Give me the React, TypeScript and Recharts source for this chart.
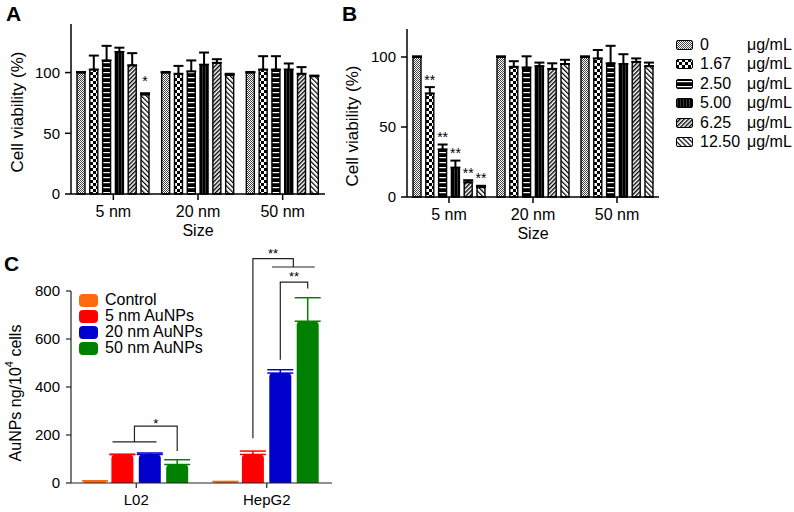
import React from 'react';
import { Bar, BarChart, ErrorBar, LabelList, Legend, XAxis, YAxis } from 'recharts';

const FONT = '"Liberation Sans", Arial, Helvetica, sans-serif';

// ---- panels A and B: cell viability ----
const sizes = ['5 nm', '20 nm', '50 nm'];
const concentrations = ['0', '1.67', '2.50', '5.00', '6.25', '12.50'];
const viabilityTicks = [0, 50, 100];

// one row per concentration, one column per particle size
const viabilityA = [
  [100, 100, 100],
  [102.5, 99, 102.5],
  [110, 101, 102.5],
  [117, 106.5, 102.5],
  [106, 108, 99],
  [82, 98, 97],
];
const errorA = [
  [0.5, 0.5, 0.5],
  [11.5, 6.5, 11],
  [12, 9, 11],
  [3.5, 10, 5],
  [10, 3, 5.5],
  [1, 1, 0.5],
];
const starsA = [
  ['', '', ''],
  ['', '', ''],
  ['', '', ''],
  ['', '', ''],
  ['', '', ''],
  ['*', '', ''],
];

const viabilityB = [
  [100, 100, 100],
  [74, 93, 99],
  [34, 92.5, 95.5],
  [21, 93.5, 95],
  [10.5, 91.5, 96.5],
  [7, 95, 93.5],
];
const errorB = [
  [0.5, 0.5, 0.5],
  [4.5, 4, 6],
  [3.5, 8, 12.5],
  [5, 2.5, 7],
  [1.5, 4, 2.5],
  [1, 3, 2.5],
];
const starsB = [
  ['', '', ''],
  ['**', '', ''],
  ['**', '', ''],
  ['**', '', ''],
  ['**', '', ''],
  ['**', '', ''],
];

// ---- panel C: gold uptake ----
const cellLines = ['L02', 'HepG2'];
const groupsC = ['Control', '5 nm AuNPs', '20 nm AuNPs', '50 nm AuNPs'];
const colorsC = ['#ff6a10', '#ff0000', '#0000cc', '#008000'];
const uptakeC = [
  [9, 6],
  [118, 119],
  [119, 458],
  [77, 674],
];
const errorC = [
  [0, 0],
  [2, 14],
  [6, 14],
  [20, 98],
];
const uptakeTicks = [0, 200, 400, 600, 800];

// significance brackets, in data units (ng/10^4 cells)
const bracketL02 = { pairLine: 171, top: 237, drop: 133 };
const bracketHepG2 = { outerTop: 935, outerDrop: 186, pairLine: 900, innerTop: 837, innerLeft: 514, innerRight: 810 };

const BAR_GAP_AB = 4.8;
const BAR_GAP_C = 5.4;

function buildViabilityRows(values: number[][], errors: number[][], stars: string[][]) {
  return sizes.map((size, i) => {
    const row: Record<string, unknown> = { size };
    concentrations.forEach((_, k) => {
      row[`v${k}`] = values[k][i];
      row[`e${k}`] = [0, errors[k][i]];
      row[`s${k}`] = stars[k][i];
    });
    return row;
  });
}

const rowsA = buildViabilityRows(viabilityA, errorA, starsA);
const rowsB = buildViabilityRows(viabilityB, errorB, starsB);

const rowsC = cellLines.map((cell, i) => {
  const row: Record<string, unknown> = { cell };
  groupsC.forEach((_, k) => {
    row[`u${k}`] = uptakeC[k][i];
    row[`ue${k}`] = [0, errorC[k][i]];
  });
  return row;
});

function starLabel(values: number[][], errors: number[][], stars: string[][], k: number, lift: number) {
  return (props: any) => {
    const box = props.viewBox ?? props;
    const i = props.index;
    const mark = stars[k][i];
    if (!mark || box == null || box.height == null) return null;
    const ppu = box.height / values[k][i];
    const errTop = box.y - errors[k][i] * ppu;
    const cy = errTop - lift;
    return (
      <text x={box.x + box.width / 2} y={cy + 8} textAnchor="middle" fontSize={14} fontFamily={FONT} fill="#000">
        {mark}
      </text>
    );
  };
}

function yTitle(offsetX: number, dy: number, text: React.ReactNode, size = 17) {
  return (props: any) => {
    const vb = props.viewBox;
    const cx = vb.x + offsetX;
    const cy = vb.y + vb.height / 2 + dy;
    return (
      <text
        x={cx}
        y={cy}
        transform={`rotate(-90 ${cx} ${cy})`}
        textAnchor="middle"
        dominantBaseline="central"
        fontSize={size}
        fontFamily={FONT}
        fill="#000"
      >
        {text}
      </text>
    );
  };
}

function xTitle(dy: number, text: string) {
  return (props: any) => {
    const vb = props.viewBox;
    return (
      <text
        x={vb.x + vb.width / 2}
        y={vb.y + dy}
        textAnchor="middle"
        dominantBaseline="central"
        fontSize={16}
        fontFamily={FONT}
        fill="#000"
      >
        {text}
      </text>
    );
  };
}

function PatternDefs() {
  return (
    <svg width={0} height={0} style={{ position: 'absolute' }}>
      <defs>
        <pattern id="pat0" width={2} height={2} patternUnits="userSpaceOnUse">
          <rect width={2} height={2} fill="#fff" />
          <rect width={1} height={1} fill="#444" />
          <rect x={1} y={1} width={1} height={1} fill="#444" />
        </pattern>
        <pattern id="pat1" width={6} height={6} patternUnits="userSpaceOnUse">
          <rect width={6} height={6} fill="#fff" />
          <rect width={3} height={3} fill="#000" />
          <rect x={3} y={3} width={3} height={3} fill="#000" />
        </pattern>
        <pattern id="pat2" width={4} height={5} patternUnits="userSpaceOnUse">
          <rect width={4} height={5} fill="#000" />
          <rect y={2} width={4} height={1.2} fill="#fff" />
        </pattern>
        <pattern id="pat3" width={3} height={3} patternUnits="userSpaceOnUse">
          <rect width={3} height={3} fill="#000" />
          <rect x={1} width={0.8} height={3} fill="#444" />
        </pattern>
        <pattern id="pat4" width={3} height={3} patternUnits="userSpaceOnUse" patternTransform="rotate(45)">
          <rect width={3} height={3} fill="#fff" />
          <rect width={1.4} height={3} fill="#000" />
        </pattern>
        <pattern id="pat5" width={3.5} height={3.5} patternUnits="userSpaceOnUse" patternTransform="rotate(-45)">
          <rect width={3.5} height={3.5} fill="#fff" />
          <rect width={1.2} height={3.5} fill="#000" />
        </pattern>
      </defs>
    </svg>
  );
}

function ConcentrationLegend() {
  return (
    <div style={{ fontFamily: FONT, fontSize: 16, color: '#000' }}>
      {concentrations.map((c, k) => (
        <div key={c} style={{ display: 'flex', alignItems: 'center', height: 19.5, whiteSpace: 'nowrap' }}>
          <svg width={17} height={10} style={{ marginRight: 7 }}>
            <rect x={0.5} y={0.5} width={16} height={9} rx={1.5} fill={`url(#pat${k})`} stroke="#000" strokeWidth={1} />
          </svg>
          <span style={{ width: 47 }}>{c}</span>
          <span>μg/mL</span>
        </div>
      ))}
    </div>
  );
}

function UptakeLegend() {
  return (
    <div style={{ fontFamily: FONT, fontSize: 16, color: '#000' }}>
      {groupsC.map((g, k) => (
        <div key={g} style={{ display: 'flex', alignItems: 'center', height: 16, whiteSpace: 'nowrap' }}>
          <span style={{ width: 19, height: 13, borderRadius: 4, background: colorsC[k], marginRight: 7, display: 'inline-block' }} />
          <span>{g}</span>
        </div>
      ))}
    </div>
  );
}

function significanceMarks(props: any) {
  const box = props.viewBox ?? props;
  const i = props.index;
  if (box == null || box.height == null) return null;
  const ppu = box.height / uptakeC[3][i];
  const Y = (v: number) => box.y + box.height - v * ppu;
  const pitch = box.width + BAR_GAP_C;
  const c50 = box.x + box.width / 2;
  const c20 = c50 - pitch;
  const c5 = c20 - pitch;
  const line = { stroke: '#222', strokeWidth: 1.2, fill: 'none' };
  const star = (x: number, cy: number, s: string) => (
    <text x={x} y={cy + 7.5} textAnchor="middle" fontSize={13} fontFamily={FONT} fill="#000">
      {s}
    </text>
  );

  if (i === 0) {
    const b = bracketL02;
    const left = c5 - 0.45 * box.width;
    const right = c20 + 0.3 * box.width;
    const mid = (left + right) / 2;
    return (
      <g>
        <line x1={left} x2={right} y1={Y(b.pairLine)} y2={Y(b.pairLine)} {...line} />
        <polyline
          points={`${mid},${Y(b.pairLine)} ${mid},${Y(b.top)} ${c50},${Y(b.top)} ${c50},${Y(b.drop)}`}
          {...line}
        />
        {star((mid + c50) / 2, Y(b.top) - 6, '*')}
      </g>
    );
  }

  const b = bracketHepG2;
  const left = c20 - 0.38 * box.width;
  const right = c50 + 0.32 * box.width;
  const mid = (left + right) / 2;
  return (
    <g>
      <line x1={left} x2={right} y1={Y(b.pairLine)} y2={Y(b.pairLine)} {...line} />
      <polyline
        points={`${c5},${Y(b.outerDrop)} ${c5},${Y(b.outerTop)} ${mid},${Y(b.outerTop)} ${mid},${Y(b.pairLine)}`}
        {...line}
      />
      {star((c5 + mid) / 2, Y(b.outerTop) - 8, '**')}
      <polyline
        points={`${c20},${Y(b.innerLeft)} ${c20},${Y(b.innerTop)} ${c50},${Y(b.innerTop)} ${c50},${Y(b.innerRight)}`}
        {...line}
      />
      {star((c20 + c50) / 2, Y(b.innerTop) - 8.5, '**')}
    </g>
  );
}

const axisStroke = { stroke: '#000', strokeWidth: 1.5 };

function ViabilityBars(values: number[][], errors: number[][], stars: string[][], lift: number) {
  return concentrations.map((c, k) => (
    <Bar
      key={c}
      dataKey={`v${k}`}
      fill={`url(#pat${k})`}
      stroke="#000"
      strokeWidth={1.4}
      radius={[2, 2, 0, 0]}
      isAnimationActive={false}
    >
      <ErrorBar dataKey={`e${k}`} width={5} strokeWidth={2} stroke="#000" direction="y" isAnimationActive={false} />
      <LabelList dataKey={`s${k}`} content={starLabel(values, errors, stars, k, lift)} />
    </Bar>
  ));
}

export default function App() {
  return (
    <div style={{ position: 'absolute', left: 0, top: 0, width: 794, height: 512, background: '#fff', fontFamily: FONT }}>
      <PatternDefs />

      <div style={{ position: 'absolute', left: 6, top: 0, fontSize: 21, fontWeight: 700, lineHeight: '28px' }}>A</div>
      <div style={{ position: 'absolute', left: 342, top: 0, fontSize: 21, fontWeight: 700, lineHeight: '28px' }}>B</div>
      <div style={{ position: 'absolute', left: 4, top: 250, fontSize: 21, fontWeight: 700, lineHeight: '28px' }}>C</div>

      {/* A */}
      <div style={{ position: 'absolute', left: 0, top: 0 }}>
        <BarChart
          width={340}
          height={240}
          data={rowsA}
          margin={{ top: 24, right: 15, bottom: 0, left: 0 }}
          barCategoryGap={6}
          barGap={BAR_GAP_AB}
        >
          <XAxis
            dataKey="size"
            height={46}
            interval={0}
            tickSize={6}
            tickMargin={6}
            axisLine={axisStroke}
            tickLine={axisStroke}
            tick={{ fill: '#000', fontSize: 16, fontFamily: FONT }}
            label={xTitle(36, 'Size')}
          />
          <YAxis
            width={71}
            domain={[0, 140]}
            ticks={viabilityTicks}
            tickSize={6}
            tickMargin={5}
            axisLine={axisStroke}
            tickLine={axisStroke}
            tick={{ fill: '#000', fontSize: 15, fontFamily: FONT }}
            label={yTitle(17, 3, 'Cell viability (%)')}
          />
          {ViabilityBars(viabilityA, errorA, starsA, 15)}
        </BarChart>
      </div>

      {/* B */}
      <div style={{ position: 'absolute', left: 330, top: 0 }}>
        <BarChart
          width={464}
          height={240}
          data={rowsB}
          margin={{ top: 29, right: 135, bottom: 0, left: 0 }}
          barCategoryGap={6}
          barGap={BAR_GAP_AB}
        >
          <XAxis
            dataKey="size"
            height={43}
            interval={0}
            tickSize={6}
            tickMargin={6}
            axisLine={axisStroke}
            tickLine={axisStroke}
            tick={{ fill: '#000', fontSize: 16, fontFamily: FONT }}
            label={xTitle(36, 'Size')}
          />
          <YAxis
            width={77}
            domain={[0, 120]}
            ticks={viabilityTicks}
            tickSize={6}
            tickMargin={5}
            axisLine={axisStroke}
            tickLine={axisStroke}
            tick={{ fill: '#000', fontSize: 15, fontFamily: FONT }}
            label={yTitle(22, 13, 'Cell viability (%)')}
          />
          <Legend
            layout="vertical"
            align="center"
            verticalAlign="middle"
            content={() => <ConcentrationLegend />}
            wrapperStyle={{ left: 346, top: 35, width: 118 }}
          />
          {ViabilityBars(viabilityB, errorB, starsB, 10.5)}
        </BarChart>
      </div>

      {/* C */}
      <div style={{ position: 'absolute', left: 0, top: 240 }}>
        <BarChart
          width={345}
          height={272}
          data={rowsC}
          margin={{ top: 51, right: 13, bottom: 0, left: 0 }}
          barCategoryGap={13}
          barGap={BAR_GAP_C}
        >
          <XAxis
            dataKey="cell"
            height={29}
            interval={0}
            tickSize={5}
            tickMargin={6.5}
            axisLine={{ stroke: '#222', strokeWidth: 1.2 }}
            tickLine={{ stroke: '#222', strokeWidth: 1.2 }}
            tick={{ fill: '#000', fontSize: 15, fontFamily: FONT }}
          />
          <YAxis
            width={71}
            domain={[0, 800]}
            ticks={uptakeTicks}
            tickSize={5}
            tickMargin={6}
            axisLine={{ stroke: '#222', strokeWidth: 1.2 }}
            tickLine={{ stroke: '#222', strokeWidth: 1.2 }}
            tick={{ fill: '#000', fontSize: 15, fontFamily: FONT }}
            label={yTitle(
              15,
              6,
              <>
                AuNPs ng/10
                <tspan dy={-6} fontSize={11}>
                  4
                </tspan>
                <tspan dy={6}> cells</tspan>
              </>,
              16
            )}
          />
          <Legend
            layout="vertical"
            align="center"
            verticalAlign="middle"
            content={() => <UptakeLegend />}
            wrapperStyle={{ left: 79, top: 52, width: 140 }}
          />
          {groupsC.map((g, k) => (
            <Bar key={g} dataKey={`u${k}`} fill={colorsC[k]} radius={[4, 4, 0, 0]} isAnimationActive={false}>
              <ErrorBar
                dataKey={`ue${k}`}
                width={13}
                strokeWidth={1.5}
                stroke={colorsC[k]}
                direction="y"
                isAnimationActive={false}
              />
              {k === 3 && <LabelList dataKey={`u${k}`} content={significanceMarks} />}
            </Bar>
          ))}
        </BarChart>
      </div>
    </div>
  );
}
